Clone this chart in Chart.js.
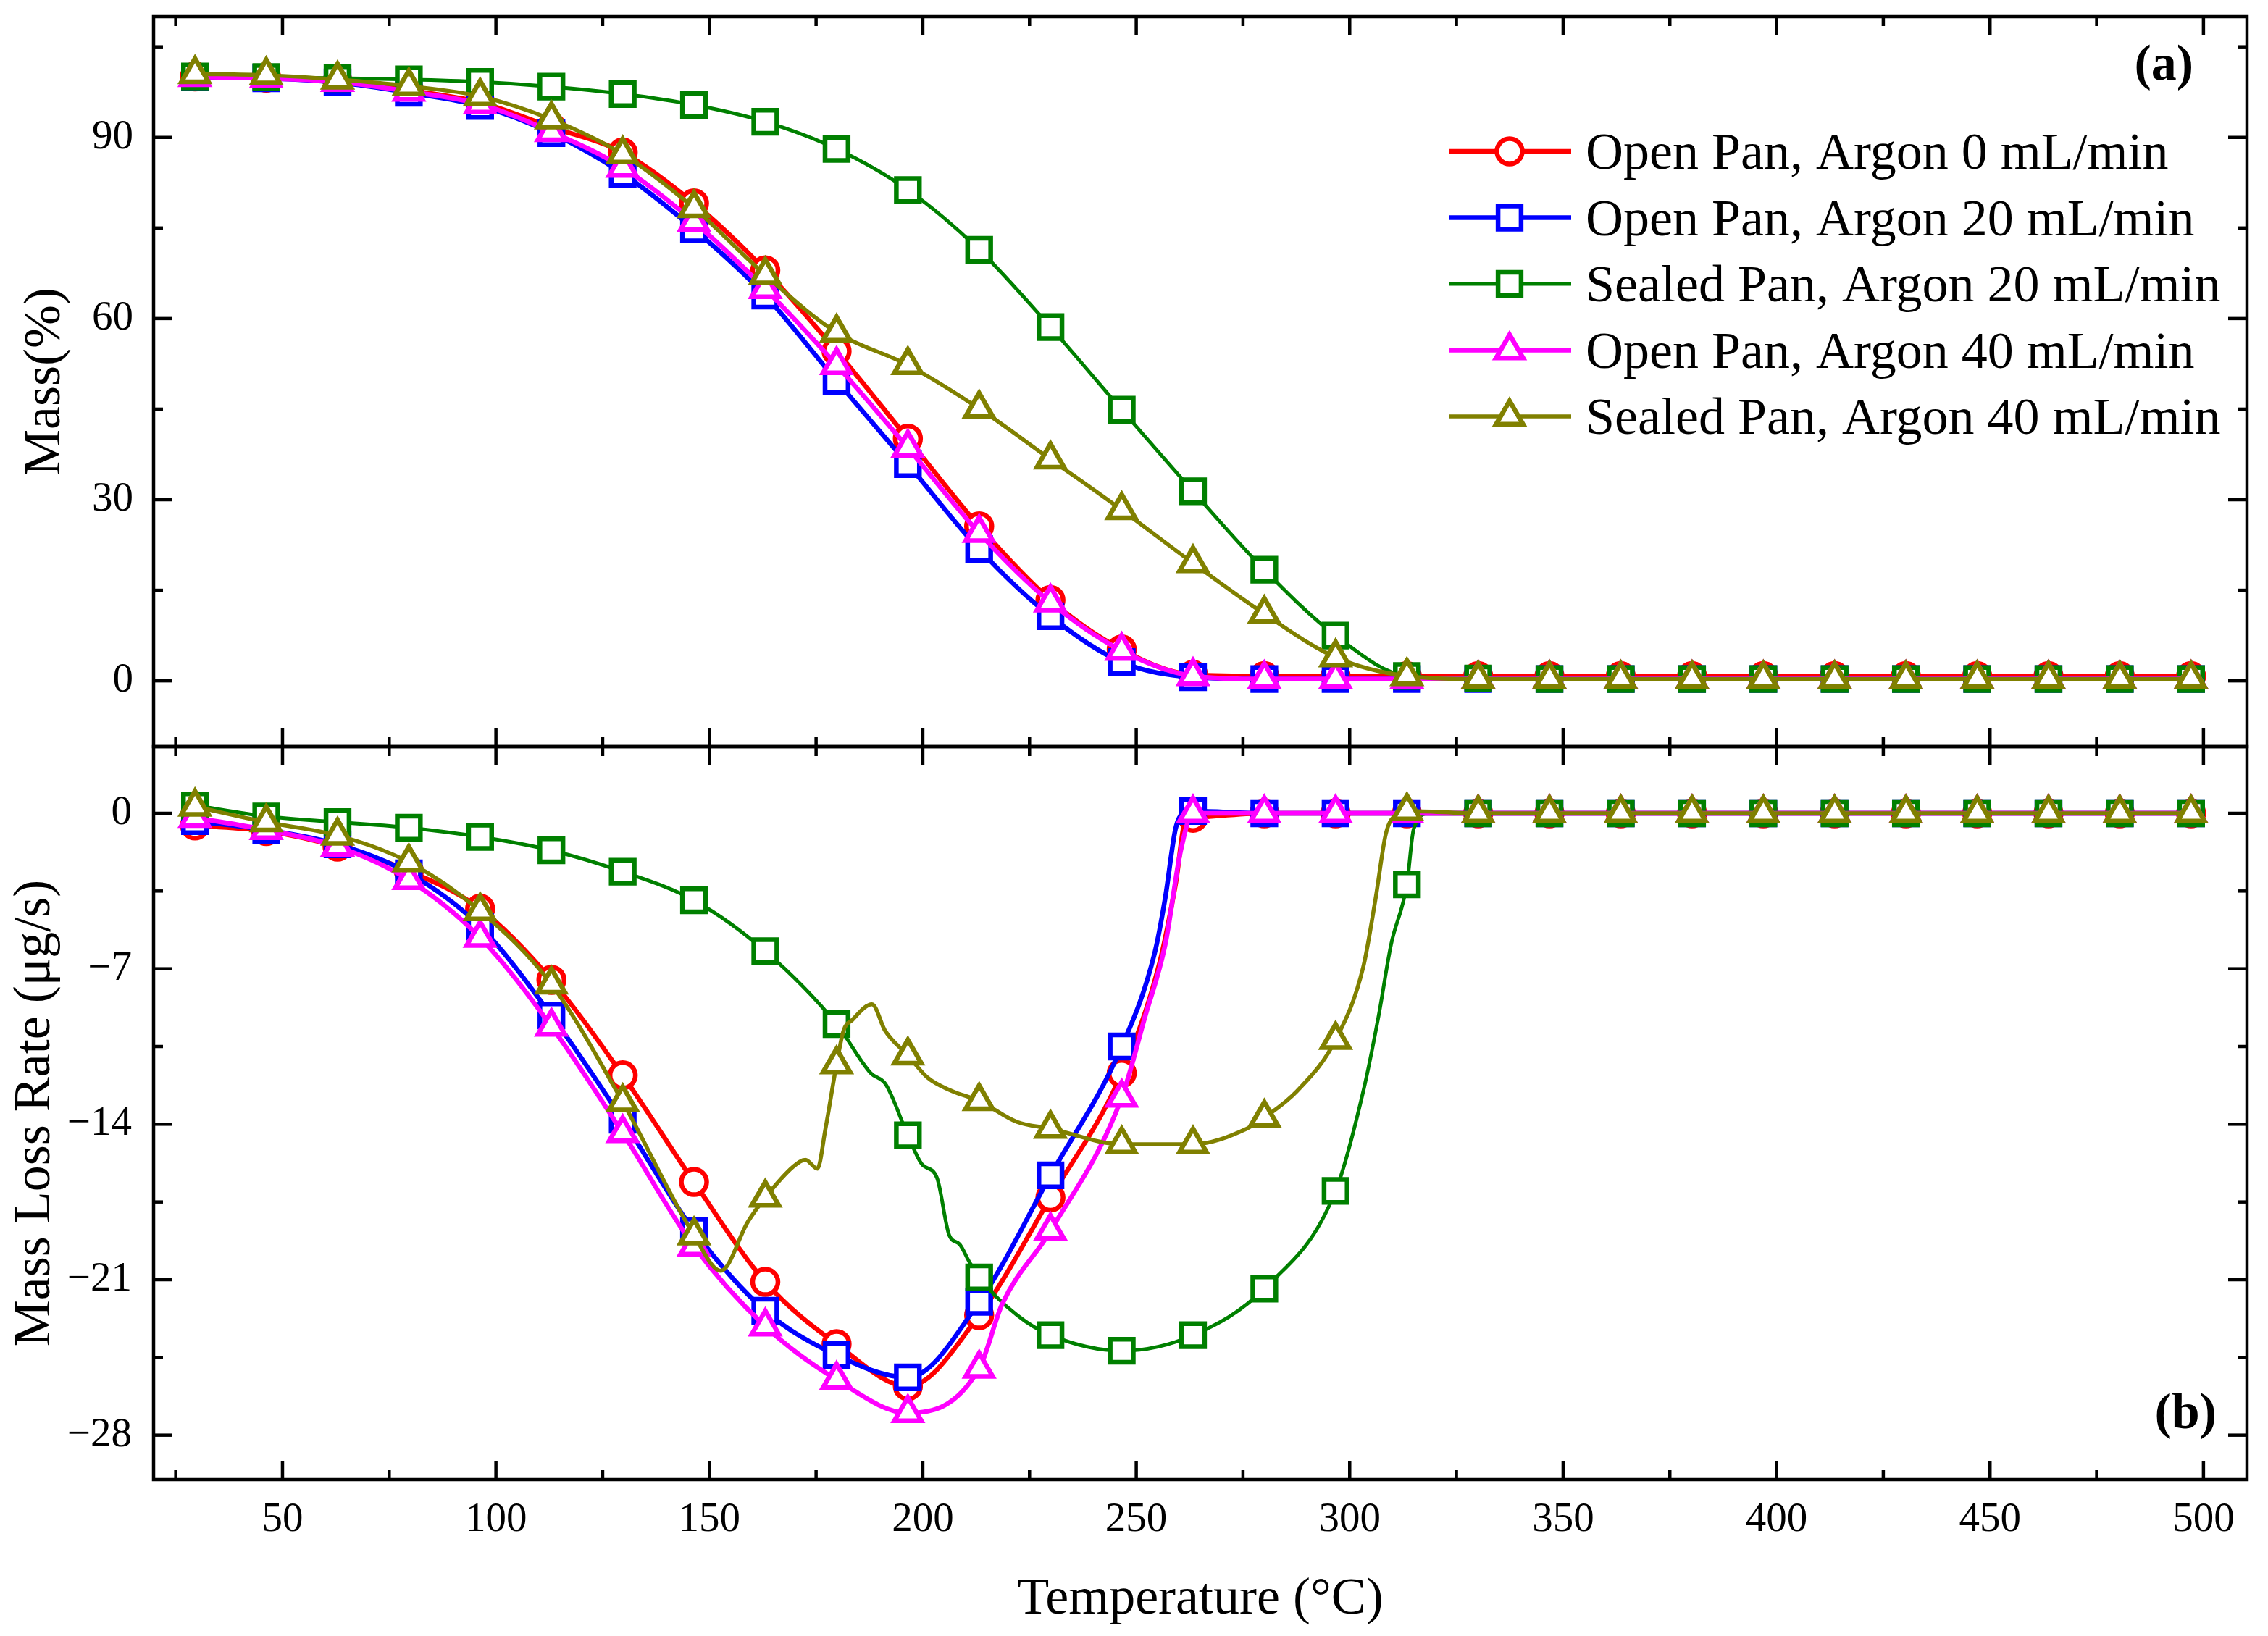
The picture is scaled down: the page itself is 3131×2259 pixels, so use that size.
<!DOCTYPE html>
<html>
<head>
<meta charset="utf-8">
<script src="https://cdn.jsdelivr.net/npm/chart.js@4.4.1/dist/chart.umd.min.js"></script>
<style>
  html, body { margin: 0; padding: 0; background: #fff; }
  body { width: 3131px; height: 2259px; position: relative; overflow: hidden; }
  #topChart { position: absolute; left: 0; top: 0; }
  #botChart { position: absolute; left: 0; top: 1000px; }
</style>
</head>
<body>
<canvas id="topChart" width="3131" height="1040"></canvas>
<canvas id="botChart" width="3131" height="1259"></canvas>
<script>
// marker temperatures (°C)
const temps = [29.5, 46.2, 62.9, 79.6, 96.3, 113.0, 129.7, 146.4, 163.1, 179.8, 196.5, 213.2, 229.9, 246.6, 263.3,
               280.0, 296.7, 313.4, 330.1, 346.8, 363.5, 380.2, 396.9, 413.6, 430.3, 447.0, 463.7, 480.4, 497.1];

// (a) mass, %
const massRed     = [100.1, 99.9, 99.3, 97.8, 95.8, 91.7, 87.5, 79.1, 68.0, 54.6, 40.1, 25.6, 13.4, 5.2, 1.0,
                     0.8, 0.8, 0.8, 0.8, 0.8, 0.8, 0.8, 0.8, 0.8, 0.8, 0.8, 0.8, 0.8, 0.8];
const massBlue    = [100.0, 99.8, 99.1, 97.4, 95.2, 90.7, 84.0, 74.8, 63.8, 49.7, 35.9, 21.8, 10.7, 3.1, 0.6,
                     0.3, 0.3, 0.3, 0.3, 0.3, 0.3, 0.3, 0.3, 0.3, 0.3, 0.3, 0.3, 0.3, 0.3];
const massGreen   = [100.1, 100.0, 99.8, 99.6, 99.2, 98.4, 97.2, 95.4, 92.6, 88.1, 81.3, 71.4, 58.6, 44.9, 31.4,
                     18.4, 7.5, 0.8, 0.4, 0.3, 0.3, 0.3, 0.3, 0.3, 0.3, 0.3, 0.3, 0.3, 0.3];
const massMagenta = [100.0, 99.8, 99.2, 97.6, 95.5, 90.9, 85.0, 76.0, 64.9, 52.3, 38.6, 24.5, 13.0, 5.0, 0.8,
                     0.3, 0.3, 0.3, 0.3, 0.3, 0.3, 0.3, 0.3, 0.3, 0.3, 0.3, 0.3, 0.3, 0.3];
const massOlive   = [100.5, 100.3, 99.6, 98.5, 96.8, 93.0, 87.2, 78.3, 67.2, 57.7, 52.3, 45.1, 36.7, 28.3, 19.5,
                     11.1, 3.9, 0.8, 0.3, 0.3, 0.3, 0.3, 0.3, 0.3, 0.3, 0.3, 0.3, 0.3, 0.3];

// (b) mass loss rate, µg/s
const rateRed     = [-0.55, -0.8, -1.5, -2.6, -4.3, -7.5, -11.8, -16.6, -21.1, -23.9, -25.8, -22.6, -17.3, -11.7, -0.2,
                     0, 0, 0, 0, 0, 0, 0, 0, 0, 0, 0, 0, 0, 0];
const rateBlue    = [-0.35, -0.75, -1.4, -2.7, -5.1, -9.1, -13.8, -18.8, -22.4, -24.4, -25.4, -22.0, -16.3, -10.5, 0.1,
                     0, 0, 0, 0, 0, 0, 0, 0, 0, 0, 0, 0, 0, 0];
const rateGreen   = [0.35, -0.14, -0.4, -0.65, -1.06, -1.67, -2.63, -3.92, -6.21, -9.49, -14.5, -20.9, -23.5, -24.2, -23.5,
                     -21.4, -17.0, -3.2, 0, 0, 0, 0, 0, 0, 0, 0, 0, 0, 0];
const rateMagenta = [-0.2, -0.75, -1.5, -3.0, -5.6, -9.6, -14.4, -19.5, -23.1, -25.5, -27.0, -25.0, -18.8, -12.8, 0,
                     0, 0, 0, 0, 0, 0, 0, 0, 0, 0, 0, 0, 0, 0];
const rateOlive   = [0.3, -0.4, -1.0, -2.2, -4.4, -7.7, -13.0, -19.0, -17.3, -11.3, -10.9, -12.95, -14.2, -14.9, -14.9,
                     -13.7, -10.2, 0.1, 0, 0, 0, 0, 0, 0, 0, 0, 0, 0, 0];

// extra readings between markers (temperature, rate)
const rateRedExtra     = [[255.5, -6.7], [259.2, -3.2], [261.6, -0.3]];
const rateBlueExtra    = [[254.3, -6.3], [256.8, -3.8], [259.2, -0.7], [261.0, 0]];
const rateMagentaExtra = [[218.6, -22.1], [252.0, -9.2], [256.8, -5.9], [260.4, -1.7]];
const rateGreenExtra   = [[187.8, -11.7], [191.3, -12.2], [199.8, -15.8], [203.3, -16.4], [206.2, -19.0],
                          [208.6, -19.4], [210.9, -20.2], [222.1, -22.6], [303.2, -12.5], [306.7, -9.2],
                          [309.7, -5.9], [315.0, -0.7], [318.6, 0]];
const rateOliveExtra   = [[152.7, -20.6], [159.0, -18.4], [169.7, -15.9], [172.5, -15.6], [175.3, -16.0],
                          [177.2, -14.2], [181.4, -9.8], [183.5, -9.3], [188.1, -8.6], [191.2, -9.8],
                          [201.1, -11.9], [206.7, -12.5], [222.1, -13.9], [275.9, -14.2], [287.7, -12.5],
                          [303.2, -6.9], [306.1, -3.8], [308.5, -0.9], [311.5, 0]];

const xTicks = [50, 100, 150, 200, 250, 300, 350, 400, 450, 500];
const xMinor = [25, 75, 125, 175, 225, 275, 325, 375, 425, 475];
const massTicks = [0, 30, 60, 90];
const massMinor = [15, 45, 75, 105];
const rateTicks = [-28, -21, -14, -7, 0];
const rateMinor = [-24.5, -17.5, -10.5, -3.5];

const seriesNames = ['Open Pan, Argon 0 mL/min', 'Open Pan, Argon 20 mL/min', 'Sealed Pan, Argon 20 mL/min',
                     'Open Pan, Argon 40 mL/min', 'Sealed Pan, Argon 40 mL/min'];
const seriesColors = ['#ff0000', '#0000ff', '#008000', '#ff00ff', '#808000'];
const seriesShapes = ['circle', 'rect', 'rect', 'triangle', 'triangle'];
const markerRadius = { circle: 17.5, rect: 22.5, triangle: 21.5 };
const lineWidths = [6.5, 6.5, 5, 6.5, 5.5];

const SERIF = "'Liberation Serif', 'Times New Roman', serif";

function buildPoints(values, extra) {
    const pts = temps.map((t, i) => ({ x: t, y: values[i], m: true }));
    (extra || []).forEach(p => pts.push({ x: p[0], y: p[1], m: false }));
    return pts.sort((a, b) => a.x - b.x);
}

function makeDatasets(seriesList, extras, yId) {
    return seriesList.map((vals, i) => ({
        label: seriesNames[i],
        data: buildPoints(vals, extras[i]),
        yAxisID: yId,
        borderColor: seriesColors[i],
        borderWidth: lineWidths[i],
        cubicInterpolationMode: 'monotone',
        pointStyle: seriesShapes[i],
        pointRadius: ctx => (ctx.raw && ctx.raw.m ? markerRadius[seriesShapes[i]] : 0),
        pointBackgroundColor: '#ffffff',
        pointBorderColor: seriesColors[i],
        pointBorderWidth: 6.5,
        pointHoverRadius: 0,
        order: 5 - i
    }));
}

function fmtTick(v) {
    return v < 0 ? '\u2212' + Math.abs(v) : String(v);
}

function drawMarker(ctx, shape, x, y, r) {
    ctx.beginPath();
    if (shape === 'circle') {
        ctx.arc(x, y, r, 0, Math.PI * 2);
    } else if (shape === 'rect') {
        const s = r * Math.SQRT1_2;
        ctx.rect(x - s, y - s, 2 * s, 2 * s);
    } else {
        let a = 0;
        ctx.moveTo(x + Math.sin(a) * r, y - Math.cos(a) * r);
        a += Math.PI * 2 / 3;
        ctx.lineTo(x + Math.sin(a) * r, y - Math.cos(a) * r);
        a += Math.PI * 2 / 3;
        ctx.lineTo(x + Math.sin(a) * r, y - Math.cos(a) * r);
    }
    ctx.closePath();
    ctx.fill();
    ctx.stroke();
}

// frame with inward ticks on all four sides + panel tag
function framePlugin(yId, yMajor, yMinor, tag, tagX, tagY) {
    return {
        id: 'frame',
        afterDatasetsDraw(chart) {
            const { ctx, chartArea: a } = chart;
            const xs = chart.scales.x, ys = chart.scales[yId];
            ctx.save();
            ctx.strokeStyle = '#000';
            ctx.lineWidth = 4.5;
            const seg = (x1, y1, x2, y2) => { ctx.beginPath(); ctx.moveTo(x1, y1); ctx.lineTo(x2, y2); ctx.stroke(); };
            xTicks.forEach(v => { const p = xs.getPixelForValue(v); seg(p, a.top, p, a.top + 26); seg(p, a.bottom, p, a.bottom - 26); });
            xMinor.forEach(v => { const p = xs.getPixelForValue(v); seg(p, a.top, p, a.top + 13); seg(p, a.bottom, p, a.bottom - 13); });
            yMajor.forEach(v => { const p = ys.getPixelForValue(v); seg(a.left, p, a.left + 26, p); seg(a.right, p, a.right - 26, p); });
            yMinor.forEach(v => { const p = ys.getPixelForValue(v); seg(a.left, p, a.left + 13, p); seg(a.right, p, a.right - 13, p); });
            ctx.strokeRect(a.left, a.top, a.right - a.left, a.bottom - a.top);
            ctx.fillStyle = '#000';
            ctx.font = 'bold 70px ' + SERIF;
            ctx.textAlign = 'right';
            ctx.textBaseline = 'middle';
            ctx.fillText(tag, tagX, tagY);
            ctx.restore();
        }
    };
}

const legendPlugin = {
    id: 'lineLegend',
    afterDraw(chart) {
        const ctx = chart.ctx;
        ctx.save();
        seriesNames.forEach((name, i) => {
            const y = 209 + i * 91.5;
            ctx.strokeStyle = seriesColors[i];
            ctx.lineWidth = lineWidths[i];
            ctx.beginPath();
            ctx.moveTo(2000, y);
            ctx.lineTo(2169, y);
            ctx.stroke();
            ctx.fillStyle = '#fff';
            ctx.lineWidth = 6.5;
            drawMarker(ctx, seriesShapes[i], 2084, y, markerRadius[seriesShapes[i]]);
            ctx.fillStyle = '#000';
            ctx.font = '72px ' + SERIF;
            ctx.textAlign = 'left';
            ctx.textBaseline = 'alphabetic';
            ctx.fillText(name, 2189, y + 24);
        });
        ctx.restore();
    }
};

const commonX = { type: 'linear', min: 19.8, max: 510.2 };

new Chart(document.getElementById('topChart'), {
    type: 'line',
    data: { datasets: makeDatasets([massRed, massBlue, massGreen, massMagenta, massOlive], [], 'yMass') },
    options: {
        responsive: false,
        animation: false,
        events: [],
        layout: { autoPadding: false, padding: { left: 0, right: 29, top: 23, bottom: 9 } },
        plugins: { legend: { display: false }, tooltip: { enabled: false } },
        scales: {
            x: { ...commonX, display: false },
            yMass: {
                position: 'left', min: -10.9, max: 110,
                afterBuildTicks: s => { s.ticks = massTicks.map(v => ({ value: v })); },
                afterFit: s => { s.width = 212; s.paddingTop = 0; s.paddingBottom = 0; },
                grid: { display: false, drawTicks: false },
                border: { display: false },
                ticks: { padding: 28, color: '#000', font: { family: SERIF, size: 57 }, callback: v => fmtTick(v) },
                title: { display: true, text: 'Mass(%)', color: '#000', font: { family: SERIF, size: 72 }, padding: { top: 20, bottom: 0 } }
            }
        }
    },
    plugins: [framePlugin('yMass', massTicks, massMinor, '(a)', 3028, 92), legendPlugin]
});

new Chart(document.getElementById('botChart'), {
    type: 'line',
    data: {
        datasets: makeDatasets([rateRed, rateBlue, rateGreen, rateMagenta, rateOlive],
            [rateRedExtra, rateBlueExtra, rateGreenExtra, rateMagentaExtra, rateOliveExtra], 'yRate')
    },
    options: {
        responsive: false,
        animation: false,
        events: [],
        layout: { autoPadding: false, padding: { left: 0, right: 29, top: 31, bottom: 0 } },
        plugins: { legend: { display: false }, tooltip: { enabled: false } },
        scales: {
            x: {
                ...commonX, position: 'bottom',
                afterBuildTicks: s => { s.ticks = xTicks.map(v => ({ value: v })); },
                afterFit: s => { s.height = 216; s.paddingLeft = 0; s.paddingRight = 0; },
                grid: { display: false, drawTicks: false },
                border: { display: false },
                ticks: { padding: 22, maxRotation: 0, autoSkip: false, color: '#000', font: { family: SERIF, size: 57 }, callback: v => String(v) },
                title: { display: true, text: 'Temperature (°C)', color: '#000', font: { family: SERIF, size: 72 }, padding: { top: 0, bottom: 7 } }
            },
            yRate: {
                position: 'left', min: -30, max: 3,
                afterBuildTicks: s => { s.ticks = rateTicks.map(v => ({ value: v })); },
                afterFit: s => { s.width = 212; s.paddingTop = 0; s.paddingBottom = 0; },
                grid: { display: false, drawTicks: false },
                border: { display: false },
                ticks: { padding: 30, color: '#000', font: { family: SERIF, size: 57 }, callback: v => fmtTick(v) },
                title: { display: true, text: 'Mass Loss Rate (μg/s)', color: '#000', font: { family: SERIF, size: 72 }, padding: { top: 6, bottom: 0 } }
            }
        }
    },
    plugins: [framePlugin('yRate', rateTicks, rateMinor, '(b)', 3060, 954)]
});
</script>
</body>
</html>
